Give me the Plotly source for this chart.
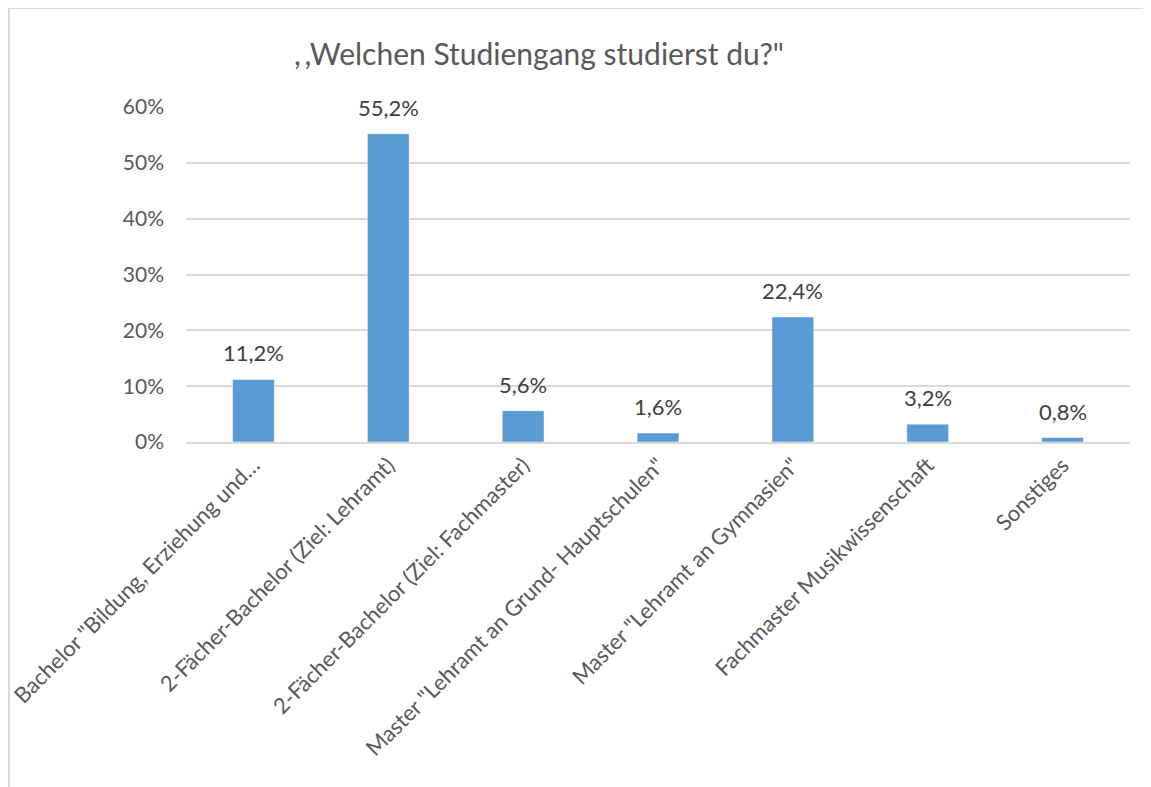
import plotly.graph_objects as go

categories = [
    'Bachelor "Bildung, Erziehung und…',
    '2-Fächer-Bachelor (Ziel: Lehramt)',
    '2-Fächer-Bachelor (Ziel: Fachmaster)',
    'Master "Lehramt an Grund- Hauptschulen"',
    'Master "Lehramt an Gymnasien"',
    'Fachmaster Musikwissenschaft',
    'Sonstiges',
]
shares = [0.112, 0.552, 0.056, 0.016, 0.224, 0.032, 0.008]
y_ticks = [0, 0.1, 0.2, 0.3, 0.4, 0.5, 0.6]

FONT = "Lato, 'Open Sans', sans-serif"
GREY = "#595959"
GRID = "#d9d9d9"

fig = go.Figure()
fig.add_trace(go.Bar(
    x=categories, y=shares,
    marker=dict(color="#5b9bd5", line=dict(color="#ffffff", width=0.5)),
    hoverinfo="skip",
))

# data labels above the bars
for c, v in zip(categories, shares):
    fig.add_annotation(
        x=c, y=v, xref="x", yref="y",
        text=f"{v * 100:.1f}%".replace(".", ","),
        showarrow=False, yanchor="bottom", yshift=11,
        font=dict(family=FONT, size=22, color="#404040"),
    )

# chart-area border (only top and left visible in the crop)
fig.add_shape(type="line", xref="paper", yref="paper",
              x0=-0.1875, x1=1.05, y0=1.2955, y1=1.2955,
              line=dict(color=GRID, width=2))
fig.add_shape(type="line", xref="paper", yref="paper",
              x0=-0.1875, x1=-0.1875, y0=1.2955, y1=-1.1,
              line=dict(color=GRID, width=2))

fig.update_layout(
    width=1143, height=779,
    margin=dict(l=178, r=21, t=99, b=345, autoexpand=False),
    paper_bgcolor="white", plot_bgcolor="white",
    bargap=0.69,
    showlegend=False,
    separators=",.",
    font=dict(family=FONT, color=GREY),
    title=dict(
        text=",\u2009,Welchen Studiengang studierst du?\"",
        x=0.4646, xanchor="center", y=0.94, yanchor="middle",
        font=dict(family=FONT, size=30, color=GREY),
    ),
    xaxis=dict(
        tickangle=-45, tickfont=dict(size=22, color=GREY),
        showline=True, linecolor=GRID, linewidth=1.5,
        showgrid=False, ticks="", automargin=False,
    ),
    yaxis=dict(
        range=[0, 0.6], tickvals=y_ticks, tickformat=".0%",
        tickfont=dict(size=21, color=GREY),
        showgrid=True, gridcolor=GRID, gridwidth=1.5,
        zeroline=False, showline=False, ticks="",
        ticklabelstandoff=21, automargin=False,
    ),
)

fig.write_html("out.html")
